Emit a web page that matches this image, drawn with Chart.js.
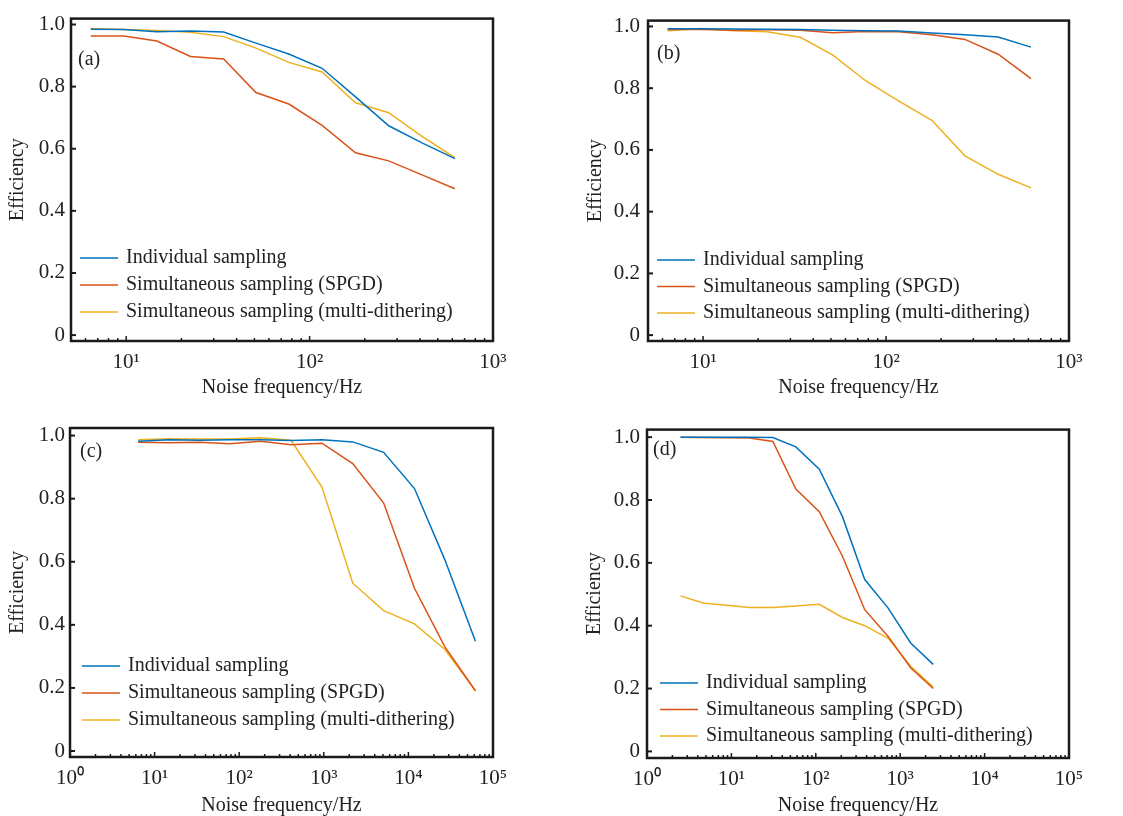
<!DOCTYPE html>
<html>
<head>
<meta charset="utf-8">
<script src="https://cdn.jsdelivr.net/npm/chart.js@4.4.1/dist/chart.umd.min.js"></script>
<style>
  body { margin: 0; background: #fff; width: 1123px; height: 816px; position: relative; overflow: hidden; }
  canvas { position: absolute; }
</style>
</head>
<body>
<canvas id="panelA" width="560" height="410" style="left:0;top:0"></canvas>
<canvas id="panelB" width="563" height="410" style="left:560px;top:0"></canvas>
<canvas id="panelC" width="560" height="406" style="left:0;top:410px"></canvas>
<canvas id="panelD" width="563" height="406" style="left:560px;top:410px"></canvas>
<script>
// Series names and colours (MATLAB default order)
const seriesNames = ["Individual sampling", "Simultaneous sampling (SPGD)", "Simultaneous sampling (multi-dithering)"];
const seriesColors = ["#0072BD", "#D95319", "#EDB120"];

// Noise frequencies (Hz)
const freqAB = [6.4, 9.7, 14.7, 22.4, 34, 51, 77, 117, 178, 270, 410, 620];
const freqC = [6.4, 14.7, 34, 77, 178, 410, 950, 2200, 5100, 11800, 27000, 62000];
const freqD = [2.5, 4.6, 8.7, 16.5, 31, 58, 110, 207, 380, 720, 1330, 2460];

// (a)
const effA_individual = [0.985, 0.984, 0.977, 0.979, 0.976, 0.940, 0.905, 0.859, 0.767, 0.674, 0.619, 0.568];
const effA_spgd = [0.963, 0.963, 0.947, 0.897, 0.889, 0.781, 0.744, 0.675, 0.587, 0.561, 0.516, 0.471];
const effA_dither = [0.987, 0.984, 0.981, 0.975, 0.961, 0.924, 0.878, 0.847, 0.748, 0.716, 0.640, 0.571];

// (b)
const effB_individual = [0.993, 0.993, 0.992, 0.991, 0.990, 0.988, 0.986, 0.985, 0.979, 0.973, 0.966, 0.933];
const effB_spgd = [0.990, 0.990, 0.988, 0.989, 0.988, 0.980, 0.984, 0.983, 0.973, 0.958, 0.910, 0.831];
const effB_dither = [0.986, 0.993, 0.986, 0.983, 0.965, 0.908, 0.825, 0.759, 0.696, 0.581, 0.521, 0.477];

// (c)
const effC_individual = [0.982, 0.987, 0.985, 0.987, 0.987, 0.984, 0.987, 0.980, 0.947, 0.832, 0.606, 0.348];
const effC_spgd = [0.979, 0.977, 0.979, 0.974, 0.982, 0.971, 0.976, 0.911, 0.786, 0.516, 0.330, 0.191];
const effC_dither = [0.987, 0.990, 0.989, 0.989, 0.993, 0.985, 0.837, 0.532, 0.445, 0.403, 0.322, 0.191];

// (d)
const effD_individual = [1.0, 1.0, 1.0, 1.0, 0.999, 0.969, 0.898, 0.747, 0.547, 0.456, 0.345, 0.277];
const effD_spgd = [1.0, 0.999, 0.998, 0.997, 0.986, 0.835, 0.763, 0.621, 0.451, 0.366, 0.266, 0.200];
const effD_dither = [0.495, 0.472, 0.465, 0.458, 0.458, 0.463, 0.468, 0.426, 0.400, 0.360, 0.271, 0.205];

// Tick values and labels
const yTickValues = [0, 0.2, 0.4, 0.6, 0.8, 1.0];
const yTickLabels = ["0", "0.2", "0.4", "0.6", "0.8", "1.0"];
const xTicksAB = [10, 100, 1000];
const xTickLabelsAB = ["10\u00B9", "10\u00B2", "10\u00B3"];
const xTicksCD = [1, 10, 100, 1000, 10000, 100000];
const xTickLabelsCD = ["10\u2070", "10\u00B9", "10\u00B2", "10\u00B3", "10\u2074", "10\u2075"];

const FONT = "'Liberation Serif', 'Times New Roman', serif";
const TEXT = "#222";

// Draws the boxed frame, inward ticks, panel letter and the legend
const framePlugin = {
  id: "frame",
  afterDatasetsDraw(chart, args, opts) {
    const ctx = chart.ctx;
    const area = chart.chartArea;
    const xs = chart.scales.x;
    const ys = chart.scales.y;
    ctx.save();
    ctx.strokeStyle = "#1a1a1a";

    // y ticks
    ctx.lineWidth = 2;
    yTickValues.forEach(v => {
      const py = ys.getPixelForValue(v);
      ctx.beginPath();
      ctx.moveTo(area.left, py);
      ctx.lineTo(area.left + 5, py);
      ctx.stroke();
    });

    // x ticks, major at decades and minor in between
    ctx.lineWidth = 1.5;
    const lo = Math.floor(Math.log10(xs.min));
    const hi = Math.ceil(Math.log10(xs.max));
    for (let e = lo; e <= hi; e++) {
      for (let k = 1; k <= 9; k++) {
        const v = k * Math.pow(10, e);
        if (v < xs.min || v > xs.max) continue;
        const px = xs.getPixelForValue(v);
        const len = k === 1 ? 5 : 3;
        ctx.beginPath();
        ctx.moveTo(px, area.bottom);
        ctx.lineTo(px, area.bottom - len);
        ctx.stroke();
      }
    }

    // box
    ctx.lineWidth = 2.5;
    ctx.strokeRect(area.left, area.top, area.right - area.left, area.bottom - area.top);

    // panel letter
    ctx.fillStyle = TEXT;
    ctx.font = "20px " + FONT;
    ctx.textBaseline = "middle";
    ctx.textAlign = "left";
    ctx.fillText(opts.letter, area.left + opts.letterX, area.top + opts.letterY);

    // legend
    chart.data.datasets.forEach((ds, i) => {
      const y = area.bottom + opts.legendY + i * opts.legendGap;
      const x0 = area.left + opts.legendX;
      ctx.strokeStyle = ds.borderColor;
      ctx.lineWidth = 1.5;
      ctx.beginPath();
      ctx.moveTo(x0, y);
      ctx.lineTo(x0 + 38, y);
      ctx.stroke();
      ctx.fillText(ds.label, x0 + 46, y);
    });
    ctx.restore();
  }
};

function makeDatasets(freq, series) {
  return series.map((vals, i) => ({
    label: seriesNames[i],
    data: freq.map((f, j) => ({ x: f, y: vals[j] })),
    borderColor: seriesColors[i],
    backgroundColor: seriesColors[i],
    borderWidth: 1.5,
    pointRadius: 0,
    tension: 0,
    fill: false
  }));
}

function makePanel(id, p) {
  new Chart(document.getElementById(id), {
    type: "line",
    data: { datasets: makeDatasets(p.freq, p.series) },
    plugins: [framePlugin],
    options: {
      responsive: false,
      animation: false,
      layout: { padding: { top: p.area.top, right: p.width - p.area.right, left: 0, bottom: 0 } },
      plugins: {
        legend: { display: false },
        tooltip: { enabled: false },
        frame: p.deco
      },
      scales: {
        x: {
          type: "logarithmic",
          min: p.xMin,
          max: p.xMax,
          grid: { display: false, drawTicks: false },
          border: { display: false },
          afterBuildTicks: scale => { scale.ticks = p.xTicks.map(v => ({ value: v })); },
          afterFit: scale => { scale.height = p.height - p.area.bottom; },
          ticks: {
            autoSkip: false,
            maxRotation: 0,
            padding: 9,
            color: TEXT,
            font: { family: FONT, size: 21 },
            callback: (v, i) => p.xLabels[i]
          },
          title: {
            display: true,
            text: "Noise frequency/Hz",
            color: TEXT,
            font: { family: FONT, size: 20, lineHeight: 1 },
            padding: { top: 0, bottom: p.xTitlePad }
          }
        },
        y: {
          min: p.yMin,
          max: p.yMax,
          grid: { display: false, drawTicks: false },
          border: { display: false },
          afterBuildTicks: scale => { scale.ticks = yTickValues.map(v => ({ value: v })); },
          afterFit: scale => { scale.width = p.area.left; },
          ticks: {
            padding: p.yTickPad,
            color: TEXT,
            font: { family: FONT, size: 21 },
            callback: (v, i) => yTickLabels[i]
          },
          title: {
            display: true,
            text: "Efficiency",
            color: TEXT,
            font: { family: FONT, size: 20, lineHeight: 1 },
            padding: { top: p.yTitlePad, bottom: 0 }
          }
        }
      }
    }
  });
}

makePanel("panelA", {
  width: 560, height: 410, area: { left: 71, right: 493, top: 14, bottom: 341 },
  freq: freqAB, series: [effA_individual, effA_spgd, effA_dither],
  xMin: 5, xMax: 1000, xTicks: xTicksAB, xLabels: xTickLabelsAB,
  yMin: -0.019, yMax: 1.019, xTitlePad: 12, yTitlePad: 8, yTickPad: 6,
  deco: { letter: "(a)", letterX: 7, letterY: 41, legendX: 9, legendY: -83, legendGap: 27 }
});

makePanel("panelB", {
  width: 563, height: 410, area: { left: 88, right: 509, top: 14, bottom: 341 },
  freq: freqAB, series: [effB_individual, effB_spgd, effB_dither],
  xMin: 5, xMax: 1000, xTicks: xTicksAB, xLabels: xTickLabelsAB,
  yMin: -0.019, yMax: 1.019, xTitlePad: 12, yTitlePad: 26, yTickPad: 8,
  deco: { letter: "(b)", letterX: 9, letterY: 33, legendX: 9, legendY: -81, legendGap: 26.5 }
});

makePanel("panelC", {
  width: 560, height: 406, area: { left: 70, right: 493, top: 18, bottom: 347 },
  freq: freqC, series: [effC_individual, effC_spgd, effC_dither],
  xMin: 1, xMax: 100000, xTicks: xTicksCD, xLabels: xTickLabelsCD,
  yMin: -0.019, yMax: 1.024, xTitlePad: 0, yTitlePad: 8, yTickPad: 5,
  deco: { letter: "(c)", letterX: 10, letterY: 24, legendX: 12, legendY: -91, legendGap: 27 }
});

makePanel("panelD", {
  width: 563, height: 406, area: { left: 87, right: 509, top: 17, bottom: 348 },
  freq: freqD, series: [effD_individual, effD_spgd, effD_dither],
  xMin: 1, xMax: 100000, xTicks: xTicksCD, xLabels: xTickLabelsCD,
  yMin: -0.021, yMax: 1.024, xTitlePad: 0, yTitlePad: 25, yTickPad: 7,
  deco: { letter: "(d)", letterX: 6, letterY: 20, legendX: 13, legendY: -75, legendGap: 26.5 }
});
</script>
</body>
</html>
